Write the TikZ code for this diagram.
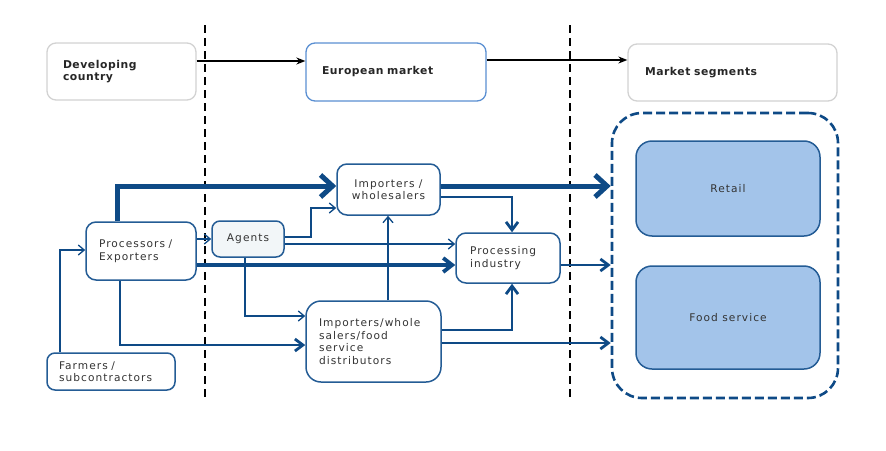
\documentclass[tikz,border=0pt]{standalone}
\usepackage{fontspec}
\setmainfont{DejaVu Sans}
\newfontfamily\lbl[LetterSpace=10]{DejaVu Sans}
\newfontfamily\hdr[LetterSpace=5]{DejaVu Sans Bold}
\usetikzlibrary{arrows.meta}
\definecolor{dblue}{HTML}{0E4A86}
\definecolor{bborder}{HTML}{245C95}
\definecolor{eublue}{HTML}{5A8FD2}
\definecolor{gbord}{HTML}{D2D2D2}
\definecolor{fillb}{HTML}{A3C4EA}
\definecolor{agfill}{HTML}{F2F6F8}
\definecolor{txt}{HTML}{333333}
\begin{document}
\begin{tikzpicture}[x=1pt,y=-1pt,
  topbox/.style={draw=gbord, line width=1.3pt, rounded corners=9pt, fill=white,
    font=\hdr\fontsize{10.8}{11.5}\selectfont, text=black!85, align=left},
  lowbox/.style={draw=bborder, line width=1.5pt, rounded corners=10pt, fill=white,
    font=\lbl\fontsize{10.6}{12.5}\selectfont, text=txt},
  segbox/.style={draw=bborder, line width=1.5pt, rounded corners=16pt, fill=fillb,
    font=\lbl\fontsize{10.6}{12.5}\selectfont, text=txt},
  vsep/.style={draw=black, line width=2.2pt, dash pattern=on 8pt off 5pt},
  toparrow/.style={draw=black, line width=1.6pt, -{Stealth[length=9pt,width=7pt]}},
  bigflow/.style={draw=dblue, line width=5pt, -{Straight Barb[length=12pt,width=22pt]}},
  midflow/.style={draw=dblue, line width=3.8pt, -{Straight Barb[length=9pt,width=14pt]}},
  medflow/.style={draw=dblue, line width=2.8pt, -{Straight Barb[length=8pt,width=12pt]}},
  thinflow/.style={draw=dblue, line width=1.3pt, -{Straight Barb[length=6pt,width=10pt]}}
]
\useasboundingbox (0,0) rectangle (886,450);

% separators
\draw[vsep] (205,25) -- (205,398);
\draw[vsep] (570,25) -- (570,398);

% top row
\node[topbox, minimum width=149pt, minimum height=57pt, text width=117pt, inner xsep=16pt] (dev) at (121.5,71.5) {Developing\\country};
\node[topbox, draw=eublue, minimum width=180pt, minimum height=58pt, text width=148pt, inner xsep=16pt] (eu) at (396,72) {European market};
\node[topbox, minimum width=209pt, minimum height=57pt, text width=175pt, inner xsep=17pt] (ms) at (732.5,72.5) {Market segments};

\draw[toparrow] (dev.east |- 0,61) -- (eu.west |- 0,61);
\draw[toparrow] (eu.east |- 0,60) -- (ms.west |- 0,60);

% market segments
\node[draw=dblue, line width=2.6pt, dash pattern=on 9pt off 4pt, rounded corners=30pt,
      minimum width=226pt, minimum height=285pt] (seg) at (725,255.5) {};
\node[segbox, minimum width=184pt, minimum height=95pt] (retail) at (728,188.5) {Retail};
\node[segbox, minimum width=184pt, minimum height=103pt] (food) at (728,317.5) {Food service};

% actors
\node[lowbox, minimum width=103pt, minimum height=51pt, align=center] (impw) at (388.5,189.5) {Importers /\\wholesalers};
\node[lowbox, fill=agfill, rounded corners=8pt, minimum width=72pt, minimum height=36pt] (agents) at (248,239) {Agents};
\node[lowbox, minimum width=110pt, minimum height=58pt, text width=84pt, inner xsep=13pt, align=left] (proc) at (141,251) {Processors /\\Exporters};
\node[lowbox, minimum width=104pt, minimum height=50pt, text width=76pt, inner xsep=14pt, align=left] (pind) at (508,258) {Processing\\industry};
\node[lowbox, rounded corners=8pt, minimum width=128pt, minimum height=37pt, text width=104pt, inner xsep=12pt, align=left] (farm) at (111,371.5) {Farmers /\\subcontractors};
\node[lowbox, rounded corners=15pt, minimum width=135pt, minimum height=81pt, text width=109pt, inner xsep=13pt, align=left] (impd) at (373.5,341.5) {Importers/whole\\salers/food\\service\\distributors};

% flows
\draw[bigflow] (proc.north -| 117,0) |- (impw.west |- 0,186);
\draw[bigflow] (impw.east |- 0,186) -- (seg.west |- 0,186);
\draw[medflow] (impw.east |- 0,197) -| (pind.north -| 512,0);
\draw[thinflow] (proc.east |- agents.west) -- (agents.west);
\draw[thinflow] (agents.east |- 0,237) -| (311,208) -- (impw.west |- 0,208);
\draw[thinflow] (agents.east |- 0,244) -- (pind.west |- 0,244);
\draw[midflow] (proc.east |- 0,265) -- (pind.west |- 0,265);
\draw[medflow] (pind.east |- 0,265) -- (seg.west |- 0,265);
\draw[thinflow] (agents.south -| 245,0) |- (impd.west |- 0,316);
\draw[medflow] (proc.south -| 120,0) |- (impd.west |- 0,345);
\draw[thinflow] (impd.north -| 388,0) -- (impw.south -| 388,0);
\draw[medflow] (impd.east |- 0,330) -| (pind.south -| 512,0);
\draw[medflow] (impd.east |- 0,343) -- (seg.west |- 0,343);
\draw[thinflow] (farm.north -| 60,0) |- (proc.west |- 0,250);
\end{tikzpicture}
\end{document}
